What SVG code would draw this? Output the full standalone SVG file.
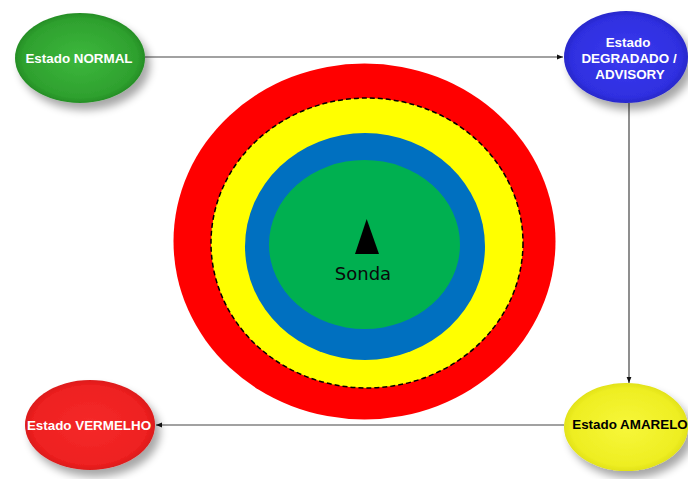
<svg xmlns="http://www.w3.org/2000/svg" width="688" height="479" viewBox="0 0 688 479">
<style>
.lbl{font-family:"Liberation Sans",Arial,sans-serif;font-weight:bold;font-size:13.4px;text-anchor:middle}
.w{fill:#ffffff}
.k{fill:#000000}
.con{stroke:#444444;stroke-width:1.2;fill:none}
</style>
<defs>
<filter id="sh" x="-30%" y="-30%" width="170%" height="170%">
<feGaussianBlur in="SourceAlpha" stdDeviation="4"/>
<feOffset dx="5" dy="7" result="b"/>
<feComponentTransfer><feFuncA type="linear" slope="0.35"/></feComponentTransfer>
<feMerge><feMergeNode/><feMergeNode in="SourceGraphic"/></feMerge>
</filter>
<radialGradient id="gG" cx="50%" cy="50%" r="55%"><stop offset="0" stop-color="#3db83d"/><stop offset="0.8" stop-color="#2ea02e"/><stop offset="1" stop-color="#1f7f1f"/></radialGradient>
<radialGradient id="gB" cx="50%" cy="50%" r="55%"><stop offset="0" stop-color="#3a3af0"/><stop offset="0.8" stop-color="#2f2fe0"/><stop offset="1" stop-color="#2222b8"/></radialGradient>
<radialGradient id="gY" cx="50%" cy="50%" r="55%"><stop offset="0" stop-color="#f7f73a"/><stop offset="0.8" stop-color="#eeee22"/><stop offset="1" stop-color="#d8d810"/></radialGradient>
<radialGradient id="gR" cx="50%" cy="50%" r="55%"><stop offset="0" stop-color="#f52a2a"/><stop offset="0.8" stop-color="#ee2020"/><stop offset="1" stop-color="#cc1515"/></radialGradient>
<marker id="ar" viewBox="0 0 10 10" refX="10" refY="5" markerWidth="6" markerHeight="6" orient="auto-start-reverse" markerUnits="userSpaceOnUse">
<path d="M0,1 L10,5 L0,9 Z" fill="#111111"/>
</marker>
</defs>
<rect width="688" height="479" fill="#ffffff"/>
<g id="target">
<ellipse cx="364.5" cy="241.5" rx="191" ry="178" fill="#ff0000"/>
<ellipse cx="367" cy="243" rx="156" ry="145" fill="#ffff00" stroke="#000000" stroke-width="1.5" stroke-dasharray="5 3"/>
<ellipse cx="365" cy="246.5" rx="120" ry="113.5" fill="#0070c0"/>
<ellipse cx="364.5" cy="244.5" rx="95.5" ry="84.5" fill="#00b050"/>
<polygon points="366.7,219 355,254 379,254" fill="#000000"/>
<text x="363" y="280" font-family="DejaVu Sans,Verdana,sans-serif" font-size="18" text-anchor="middle" fill="#0a0a0a">Sonda</text>
</g>
<g id="connectors">
<line class="con" x1="145" y1="57" x2="563" y2="57" marker-end="url(#ar)"/>
<line class="con" x1="629" y1="103" x2="629" y2="383" marker-end="url(#ar)"/>
<line class="con" x1="564" y1="425" x2="156" y2="425" marker-end="url(#ar)"/>
</g>
<g id="normal">
<ellipse cx="80" cy="58" rx="65" ry="45" fill="url(#gG)" filter="url(#sh)"/>
<text class="lbl w" x="79" y="63">Estado NORMAL</text>
</g>
<g id="degradado">
<ellipse cx="626" cy="57" rx="62" ry="46" fill="url(#gB)" filter="url(#sh)"/>
<text class="lbl w" x="628" y="47">Estado</text>
<text class="lbl w" x="629" y="63">DEGRADADO /</text>
<text class="lbl w" x="630" y="79">ADVISORY</text>
</g>
<g id="amarelo">
<ellipse cx="626" cy="427" rx="62" ry="44" fill="url(#gY)" filter="url(#sh)"/>
<text class="lbl k" x="630" y="429">Estado AMARELO</text>
</g>
<g id="vermelho">
<ellipse cx="90" cy="425" rx="65" ry="45" fill="url(#gR)" filter="url(#sh)"/>
<text class="lbl w" x="89" y="430">Estado VERMELHO</text>
</g>
</svg>
